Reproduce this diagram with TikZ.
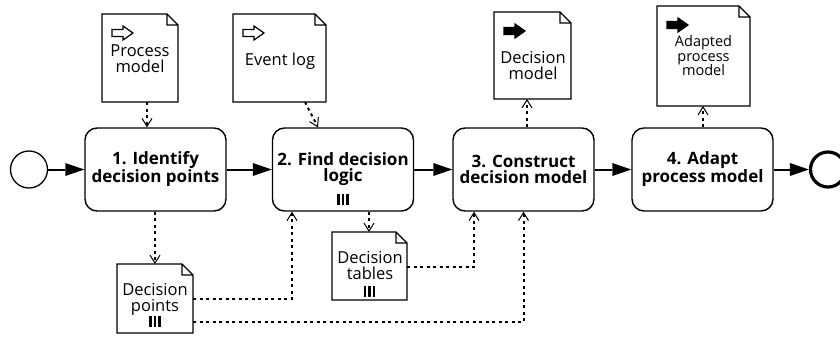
\documentclass[tikz,border=0pt]{standalone}
\usepackage{fontspec}
\setmainfont{Open Sans}
\usetikzlibrary{arrows.meta,positioning,calc}

\tikzset{
  event/.style={circle,draw,line width=1.3pt,minimum size=37,inner sep=0},
  endevent/.style={circle,draw,line width=3.2pt,minimum size=35,inner sep=0},
  task/.style={draw,line width=1.4pt,rounded corners=12pt,minimum width=141,minimum height=83,
    inner sep=0,align=center,font=\bfseries\fontsize{17}{16}\selectfont},
  doc/.style={inner sep=0,outer sep=0},
  docline/.style={line width=1.3pt,line join=miter},
  doctext/.style={align=center,inner sep=0,font=\fontsize{16.5}{16}\selectfont},
  flow/.style={line width=2pt,-{Triangle[length=19pt,width=13pt,line width=0pt]}},
  assoc/.style={line width=2pt,dash pattern=on 3pt off 3.5pt,
    -{Straight Barb[length=8pt,width=10pt,line width=1pt]}},
}

\begin{document}
\begin{tikzpicture}[x=1pt,y=-1pt]
\useasboundingbox (0,0) rectangle (840,338);

% events and tasks
\node[event] (start) at (29,169.5) {};
\node[task] (t1) at (155.5,169.5) {1. Identify\\decision points};
\node[task] (t2) at (343,169.5) {2. Find decision\\logic};
\node[task] (t3) at (523.5,169.5) {3. Construct\\decision model};
\node[task] (t4) at (702.5,169.5) {4. Adapt\\process model};
\node[endevent] (end) at (828,169.5) {};

\draw[flow] (start) -- (t1);
\draw[flow] (t1) -- (t2);
\draw[flow] (t2) -- (t3);
\draw[flow] (t3) -- (t4);
\draw[flow] (t4) -- (end);

% data objects
\node[doc,minimum width=76,minimum height=88] (pm) at (140,58) {};
\node[doc,minimum width=93,minimum height=88] (el) at (279.5,58) {};
\node[doc,minimum width=77,minimum height=87] (dm) at (532.5,55.5) {};
\node[doc,minimum width=93,minimum height=100] (apm) at (703.5,56) {};
\node[doc,minimum width=76,minimum height=69] (dp) at (155,298.5) {};
\node[doc,minimum width=75,minimum height=68] (dt) at (369.5,266) {};

\foreach \d in {pm,el,dm,apm,dp,dt}
  \draw[docline,fill=white] (\d.north west) -- ([xshift=-11pt]\d.north east)
    -- ([yshift=-11pt]\d.north east) -- (\d.south east) -- (\d.south west) -- cycle
    ([xshift=-11pt]\d.north east) |- ([yshift=-11pt]\d.north east);

% input / output arrows
\foreach \d/\c in {pm/white,el/white,dm/black,apm/black}
  \draw[line width=1.2pt,fill=\c] ([shift={(10,19)}]\d.north west) ++(0,-3.5) -- ++(11,0)
    -- ++(0,-3.5) -- ++(10,7) -- ++(-10,7) -- ++(0,-3.5) -- ++(-11,0) -- cycle;

\node[doctext] (pmtext) at (140,58.6) {Process\\model};
\node[doctext] (eltext) at (280,60.8) {Event log};
\node[doctext] (dmtext) at (533,65.2) {Decision\\model};
\node[doctext,font=\fontsize{14.5}{14.5}\selectfont] (apmtext) at (703.5,56) {Adapted\\process\\model};
\node[doctext] (dptext) at (155,299.7) {Decision\\points};
\node[doctext] (dttext) at (370,265.3) {Decision\\tables};

% collection markers
\foreach \m/\dy in {t2/12.5,dp/11.5,dt/8.5}
  \foreach \k in {-4.5,0,4.5}
    \draw[line width=2.6pt] ([shift={(\k,-\dy-5.5)}]\m.south) -- ++(0,11);

% associations
\draw[assoc] ([xshift=7pt]pm.south) -- ([xshift=-8.5pt]t1.north);
\draw[assoc] ([xshift=25.5pt]el.south) -- ([xshift=-25pt]t2.north);
\draw[assoc] ([xshift=3.5pt]t3.north) -- ([xshift=-5.5pt]dm.south);
\draw[assoc] ([xshift=0.5pt]t4.north) -- ([xshift=-0.5pt]apm.south);
\draw[assoc] ([xshift=-0.5pt]t1.south) -- (dp.north);
\draw[assoc] ([xshift=26pt]t2.south) -- ([xshift=-0.5pt]dt.north);
\draw[assoc] (dp.east) -| ([xshift=-51pt]t2.south);
\draw[assoc] ([yshift=-23.5pt]dp.east) -| (t3.south);
\draw[assoc] ([yshift=-1pt]dt.east) -| ([xshift=-49.5pt]t3.south);
\end{tikzpicture}
\end{document}
